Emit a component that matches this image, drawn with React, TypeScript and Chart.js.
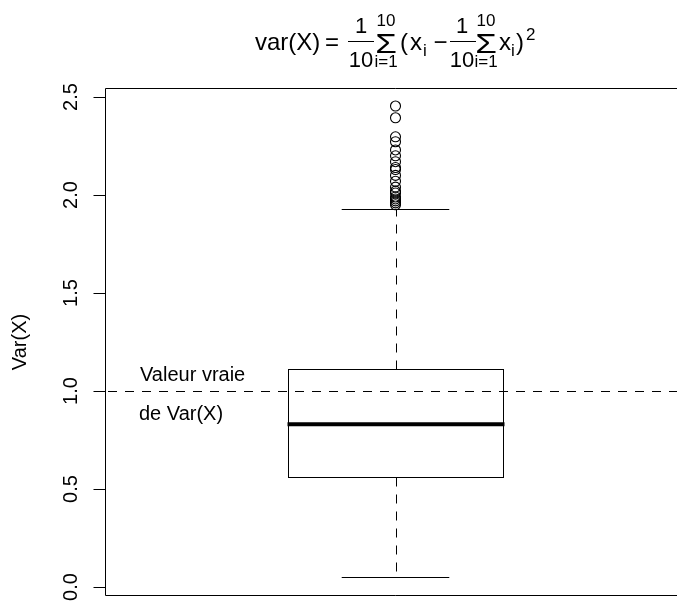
import React, { useEffect, useRef } from "react";
import { Chart, registerables } from "chart.js";

Chart.register(...registerables);

// ---- data ----
const yTickValues = [0, 0.5, 1, 1.5, 2, 2.5];
const yTickLabels = ["0.0", "0.5", "1.0", "1.5", "2.0", "2.5"];
const boxCenter = [1];
const lowerWhisker = [0.05];
const firstQuartile = [0.563];
const medianValue = [0.83];
const thirdQuartile = [1.111];
const upperWhisker = [1.929];
const outliers = [
  1.95, 1.96, 1.97, 1.98, 1.99, 2.01, 2.02, 2.04, 2.07, 2.1, 2.13, 2.14, 2.17,
  2.2, 2.23, 2.272, 2.297, 2.394, 2.454,
];
const trueValue = [1.0];
const yAxisTitle = "Var(X)";
const annotationLines = ["Valeur vraie", "de Var(X)"];

const FONT = '"Liberation Sans", Arial, Helvetica, sans-serif';

const drawPlugin = {
  id: "rbox",
  afterDatasetsDraw(chart: any) {
    const ctx: CanvasRenderingContext2D = chart.ctx;
    const xs = chart.scales.x;
    const ys = chart.scales.y;
    const area = chart.chartArea;
    ctx.save();
    ctx.strokeStyle = "#000";
    ctx.fillStyle = "#000";
    ctx.lineWidth = 1;

    const halfBox = 0.4;
    const halfCap = 0.2;
    const px = (v: number) => xs.getPixelForValue(v);
    const py = (v: number) => ys.getPixelForValue(v);

    for (let i = 0; i < boxCenter.length; i++) {
      const c = boxCenter[i];
      const xl = Math.round(px(c - halfBox)) + 0.5;
      const xr = Math.round(px(c + halfBox)) + 0.5;
      const xc = Math.round(px(c)) + 0.5;
      const yq1 = Math.round(py(firstQuartile[i])) + 0.5;
      const yq3 = Math.round(py(thirdQuartile[i])) + 0.5;
      const ylw = Math.round(py(lowerWhisker[i])) + 0.5;
      const yuw = Math.round(py(upperWhisker[i])) + 0.5;
      const cl = px(c - halfCap);
      const cr = px(c + halfCap);

      // whiskers dashed
      ctx.setLineDash([9, 8]);
      ctx.beginPath();
      ctx.moveTo(xc, yq3);
      ctx.lineTo(xc, yuw);
      ctx.moveTo(xc, yq1);
      ctx.lineTo(xc, ylw);
      ctx.stroke();
      ctx.setLineDash([]);
      // caps
      ctx.beginPath();
      ctx.moveTo(cl, yuw);
      ctx.lineTo(cr, yuw);
      ctx.moveTo(cl, ylw);
      ctx.lineTo(cr, ylw);
      ctx.stroke();
      // box
      ctx.strokeRect(xl, yq3, xr - xl, yq1 - yq3);
      // median
      ctx.lineWidth = 4;
      ctx.beginPath();
      ctx.moveTo(xl - 1, py(medianValue[i]));
      ctx.lineTo(xr + 1, py(medianValue[i]));
      ctx.stroke();
      ctx.lineWidth = 1;
    }

    // true value dashed line
    ctx.setLineDash([9, 8]);
    ctx.lineDashOffset = 14;
    const yt = Math.round(py(trueValue[0])) + 0.5;
    ctx.beginPath();
    ctx.moveTo(area.left, yt);
    ctx.lineTo(area.right, yt);
    ctx.stroke();
    ctx.setLineDash([]);
    ctx.lineDashOffset = 0;

    // frame
    const L = Math.round(area.left) + 0.5;
    const T = Math.round(area.top) + 0.5;
    const B = Math.round(area.bottom) - 0.5;
    const R = area.right;
    ctx.beginPath();
    ctx.moveTo(R, T);
    ctx.lineTo(L, T);
    ctx.lineTo(L, B);
    ctx.lineTo(R, B);
    ctx.stroke();

    // y axis ticks and labels
    ctx.font = `20px ${FONT}`;
    ctx.textAlign = "center";
    ctx.textBaseline = "alphabetic";
    for (let i = 0; i < yTickValues.length; i++) {
      const y = Math.round(py(yTickValues[i])) + 0.5;
      ctx.beginPath();
      ctx.moveTo(L - 12, y);
      ctx.lineTo(L, y);
      ctx.stroke();
      ctx.save();
      ctx.translate(77, py(yTickValues[i]));
      ctx.rotate(-Math.PI / 2);
      ctx.fillText(yTickLabels[i], 0, 0);
      ctx.restore();
    }
    // axis title
    ctx.save();
    ctx.translate(26, (area.top + area.bottom) / 2);
    ctx.rotate(-Math.PI / 2);
    ctx.fillText(yAxisTitle, 0, 0);
    ctx.restore();

    // annotation
    ctx.textAlign = "left";
    ctx.fillText(annotationLines[0], 140, 381);
    ctx.fillText(annotationLines[1], 139, 420);

    // title formula
    const t = (s: string, x: number, y: number, size: number, align: CanvasTextAlign = "left") => {
      ctx.font = `${size}px ${FONT}`;
      ctx.textAlign = align;
      ctx.fillText(s, x, y);
    };
    const sigma = (cx: number) => {
      ctx.save();
      ctx.translate(cx, 53);
      ctx.scale(1.25, 1);
      ctx.font = `28px ${FONT}`;
      ctx.textAlign = "center";
      ctx.fillText("Σ", 0, 0);
      ctx.restore();
      t("10", cx, 26, 17, "center");
      t("i=1", cx, 67, 17, "center");
    };
    const frac = (cx: number, x0: number, x1: number) => {
      t("1", cx, 33, 22, "center");
      t("10", cx, 67, 22, "center");
      ctx.beginPath();
      ctx.moveTo(x0, 41.5);
      ctx.lineTo(x1, 41.5);
      ctx.stroke();
    };
    t("var(X)", 255, 50, 24);
    t("=", 325, 50, 24);
    frac(361, 348, 374);
    sigma(386);
    t("(", 400, 50, 24);
    t("x", 410, 50, 24);
    t("i", 423, 56, 17);
    t("\u2212", 440.5, 50, 24, "center");
    frac(462, 450, 476);
    sigma(486);
    t("x", 499, 50, 24);
    t("i", 511, 56, 17);
    t(")", 516, 50, 24);
    t("2", 526, 40, 17);

    ctx.restore();
  },
};

export default function App() {
  const ref = useRef<HTMLCanvasElement | null>(null);
  useEffect(() => {
    document.body.style.margin = "0";
    const canvas = ref.current!;
    const chart = new Chart(canvas, {
      type: "scatter",
      data: {
        datasets: [
          {
            data: outliers.map((v) => ({ x: boxCenter[0], y: v })),
            pointStyle: "circle",
            pointRadius: 5,
            pointHoverRadius: 5,
            borderWidth: 1.1,
            borderColor: "#000",
            backgroundColor: "rgba(0,0,0,0)",
          },
        ],
      },
      options: {
        animation: false,
        responsive: false,
        events: [],
        layout: { padding: { left: 105, top: 88, right: 14, bottom: 13 } },
        plugins: { legend: { display: false }, tooltip: { enabled: false } },
        scales: {
          x: { type: "linear", min: -0.08, max: 2.08, display: false },
          y: { type: "linear", min: -0.046, max: 2.546, display: false },
        },
      },
      plugins: [drawPlugin],
    });
    return () => chart.destroy();
  }, []);
  return (
    <div style={{ position: "absolute", left: 0, top: 0, width: 677, height: 609, overflow: "hidden", background: "#fff" }}>
      <canvas ref={ref} width={700} height={609} style={{ width: 700, height: 609, display: "block" }} />
    </div>
  );
}
